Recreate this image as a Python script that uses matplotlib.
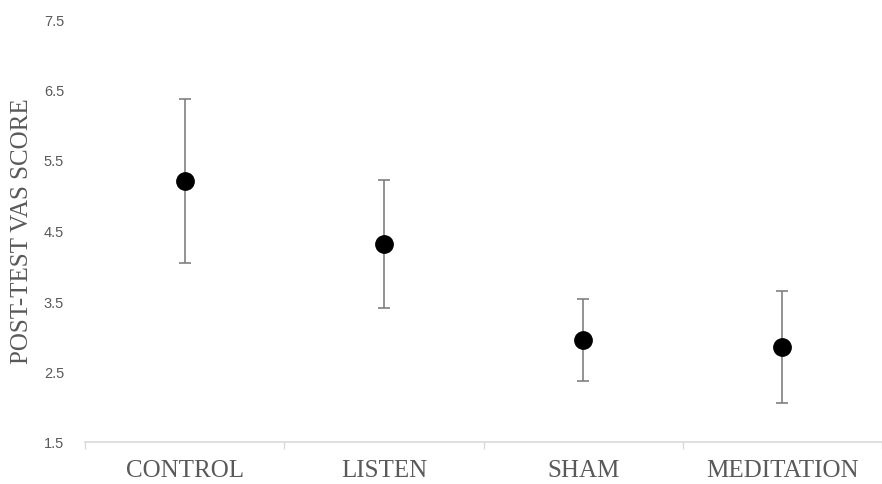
import matplotlib
matplotlib.use('Agg')
import matplotlib.pyplot as plt
import numpy as np

# data
groups = ['CONTROL', 'LISTEN', 'SHAM', 'MEDITATION']
means = [5.20, 4.31, 2.95, 2.85]
err = [1.16, 0.91, 0.58, 0.79]
y_ticks = [1.5, 2.5, 3.5, 4.5, 5.5, 6.5, 7.5]

fig = plt.figure(figsize=(8.82, 4.85), dpi=100)
ax = fig.add_axes([85 / 882, 42 / 485, 797 / 882, 423 / 485])

x = np.arange(len(groups))
ax.errorbar(x, means, yerr=err, fmt='o', color='black', markersize=12.5,
            ecolor='#808080', elinewidth=1.2, capsize=4, capthick=1.2, zorder=3)

ax.set_xlim(-0.5, -0.5 + 797 / 201)
ax.set_ylim(1.5, 7.5)
ax.set_yticks(y_ticks)
ax.set_yticklabels([f'{v:.1f}' for v in y_ticks], family='Liberation Sans',
                   fontsize=10.5, color='#595959')
ax.tick_params(axis='y', length=0, pad=15)

ax.set_xticks(x)
ax.set_xticklabels(groups, family='Liberation Serif', fontsize=18, color='#595959')
ax.set_xticks(np.arange(-0.5, len(groups), 1.0), minor=True)
ax.tick_params(axis='x', which='major', length=0, pad=12)
ax.tick_params(axis='x', which='minor', length=5, color='#d9d9d9', width=1)

ax.set_ylabel('POST-TEST VAS SCORE', family='Liberation Serif', fontsize=18,
              color='#595959')
ax.yaxis.set_label_coords(-52 / 797, 0.5)

for side in ['top', 'right', 'left']:
    ax.spines[side].set_visible(False)
ax.spines['bottom'].set_color('#d9d9d9')
ax.spines['bottom'].set_linewidth(1.2)

fig.savefig('out.png', dpi=100)
